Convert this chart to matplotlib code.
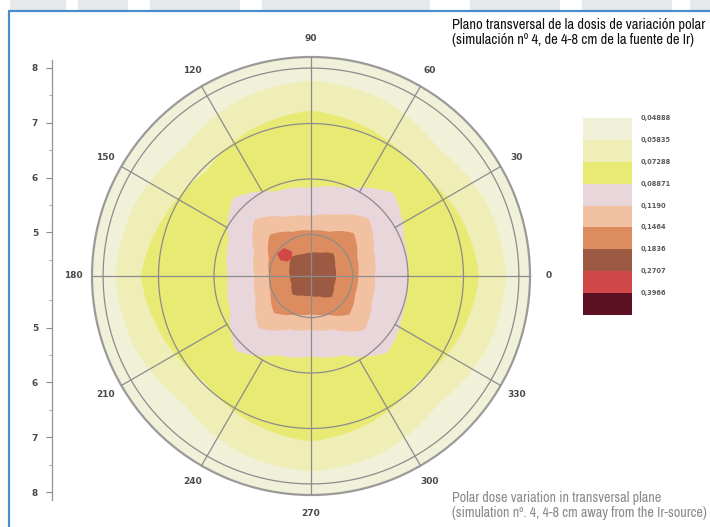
import numpy as np
import matplotlib
matplotlib.use("Agg")
import matplotlib.pyplot as plt
from matplotlib import font_manager as fm
from matplotlib.patches import Rectangle, PathPatch
from matplotlib.path import Path
from matplotlib.colors import ListedColormap, BoundaryNorm
from matplotlib.cm import ScalarMappable

# Isodose boundaries: radius (cm) of each band's outer edge at each polar angle
angles_deg = [0, 22.5, 45, 67.5, 90, 112.5, 135, 157.5,
              180, 202.5, 225, 247.5, 270, 292.5, 315, 337.5]
edge_pale = [7.77, 7.68, 7.50, 7.68, 7.77, 7.68, 7.50, 7.68,
             7.77, 7.68, 7.50, 7.68, 7.77, 7.68, 7.50, 7.68]
edge_yellow = [7.28, 7.14, 6.96, 7.10, 7.23, 7.10, 6.92, 7.10,
               7.32, 7.14, 6.96, 7.10, 7.23, 7.10, 6.96, 7.14]
edge_lavender = [6.00, 6.06, 6.36, 5.96, 5.84, 5.90, 6.24, 5.86,
                 5.75, 5.83, 6.16, 5.80, 5.70, 5.80, 6.20, 6.04]
edge_peach = [5.40, 5.47, 5.72, 5.44, 5.33, 5.40, 5.69, 5.36,
              5.27, 5.33, 5.58, 5.29, 5.22, 5.29, 5.62, 5.44]
edge_orange = [5.10, 5.15, 5.34, 5.11, 5.07, 5.11, 5.30, 5.07,
               5.00, 5.04, 5.19, 5.00, 4.94, 5.00, 5.23, 5.11]
edge_brown = [4.70, 4.72, 4.82, 4.70, 4.67, 4.67, 4.74, 4.67,
              4.63, 4.63, 4.72, 4.63, 4.61, 4.65, 4.78, 4.70]
# Small hot spot (highest band reached) near 140 degrees: closed outline
spot_theta_deg = [128, 136, 148, 153, 147, 134]
spot_r = [4.80, 4.72, 4.74, 4.86, 4.98, 4.95]

# Colour scale: lower bound of each dose band and its label
level_values = [0.04888, 0.05835, 0.07288, 0.08871, 0.1190, 0.1464, 0.1836, 0.2707, 0.3966]
level_labels = ["0,04888", "0,05835", "0,07288", "0,08871", "0,1190",
                "0,1464", "0,1836", "0,2707", "0,3966"]
band_colors = ["#f1f1da", "#eeeeb6", "#e8ea74", "#e9d6da", "#f2c1a2",
               "#dc8c5e", "#9c5a42", "#d04848", "#5a1020"]

# Polar axis ticks
ring_values = [5, 6, 7, 8]
angle_labels = [0, 30, 60, 90, 120, 150, 180, 210, 240, 270, 300, 330]

title_es = ("Plano transversal de la dosis de variación polar\n"
            "(simulación nº 4, de 4-8 cm de la fuente de Ir)")
caption_en = ("Polar dose variation in transversal plane\n"
              "(simulation nº. 4, 4-8 cm away from the Ir-source)")

W, H = 710, 527
fig = plt.figure(figsize=(W / 100, H / 100), dpi=100)
fig.patch.set_facecolor("white")


def px_box(x0, y0, x1, y1):
    return [x0 / W, 1 - y1 / H, (x1 - x0) / W, (y1 - y0) / H]


def narrow_font():
    for f in fm.fontManager.ttflist:
        if f.style != "normal":
            continue
        if "Narrow" in f.name or "Condensed" in f.name:
            return dict(family=f.name)
    for f in fm.fontManager.ttflist:
        if f.style == "normal" and f.stretch in ("condensed", "semi-condensed"):
            return dict(family=f.name, stretch=f.stretch)
    return dict(family="DejaVu Sans")


narrow = narrow_font()

# Page frame and header strip
bg = fig.add_axes([0, 0, 1, 1])
bg.set_xlim(0, W)
bg.set_ylim(H, 0)
bg.axis("off")
for x0, x1 in [(10, 66), (78, 128), (150, 240), (262, 430), (470, 560), (582, 672), (690, 710)]:
    bg.add_patch(Rectangle((x0, 0), x1 - x0, 9.5, facecolor="#e6e9ec", edgecolor="none"))
bg.plot([8, W], [10.5, 10.5], color="#4a8ccc", lw=1.6, solid_capstyle="butt")
bg.plot([8.5, 8.5], [10.5, H], color="#4a8ccc", lw=1.6, solid_capstyle="butt")

# Polar dose map
r_min, r_max = 4.25, 8.2
ax = fig.add_axes(px_box(92, 57, 530, 495), projection="polar")
ax.set_ylim(r_min, r_max)
ax.set_facecolor(band_colors[0])


def band_patch(theta_deg, radius, color, z, full_turn=True):
    end = theta_deg[0] + 360.0 if full_turn else theta_deg[0]
    t = np.deg2rad(np.append(theta_deg, end))
    r = np.append(radius, radius[0])
    path = Path(np.column_stack([t, r]), _interpolation_steps=24)
    ax.add_patch(PathPatch(path, facecolor=color, edgecolor="none", zorder=z))


edges = [edge_pale, edge_yellow, edge_lavender, edge_peach, edge_orange, edge_brown]
for k, edge in enumerate(edges):
    band_patch(angles_deg, edge, band_colors[k + 1], 1 + k * 0.01)
band_patch(spot_theta_deg, spot_r, band_colors[7], 1.1, full_turn=False)

ax.set_ylim(r_min, r_max)
ax.set_xticks([])
ax.set_yticks([])
ax.grid(False)
ax.spines["polar"].set_color("#9a9a9a")
ax.spines["polar"].set_linewidth(1.6)

grid_kw = dict(color="#8c8c8c", lw=0.9, zorder=3)
t_full = np.linspace(0, 2 * np.pi, 361)
for rv in ring_values:
    ax.plot(t_full, np.full_like(t_full, rv), **grid_kw)
for a in angle_labels:
    t = np.deg2rad(a)
    start = r_min if a % 90 == 0 else 6
    ax.plot([t, t], [start, r_max], **grid_kw)
    ax.text(t, r_max + 0.33, str(a), ha="center", va="center",
            fontsize=6.5, fontweight="bold", color="#4a4a4a", clip_on=False)

# Radial scale on the left
r0_scale, px_per_cm = 4.13, 54.8
lax = fig.add_axes(px_box(52, 60, 53, 500))
half = 220 / px_per_cm
lax.set_ylim(-half, half)
lax.set_xlim(0, 1)
for s in ["top", "right", "bottom"]:
    lax.spines[s].set_visible(False)
lax.spines["left"].set_color("#9a9a9a")
lax.spines["left"].set_linewidth(1.0)
lax.set_xticks([])
pos = [rv - r0_scale for rv in ring_values]
lax.set_yticks([-p for p in pos[::-1]] + pos)
lax.set_yticklabels([str(v) for v in ring_values[::-1]] + [str(v) for v in ring_values])
minor = [m - r0_scale for m in [4.5, 5.5, 6.5, 7.5]]
lax.set_yticks([-m for m in minor] + minor, minor=True)
lax.tick_params(axis="y", which="major", length=4, width=0.8, color="#8a8a8a",
                labelsize=6.5, labelcolor="#4a4a4a", pad=6)
lax.tick_params(axis="y", which="minor", length=2, width=0.6, color="#9a9a9a")
for lbl in lax.get_yticklabels():
    lbl.set_fontweight("bold")

# Colour bar
cmap = ListedColormap(band_colors)
norm = BoundaryNorm(level_values + [0.6], cmap.N)
cax = fig.add_axes(px_box(583, 118, 632, 315))
cb = fig.colorbar(ScalarMappable(norm=norm, cmap=cmap), cax=cax,
                  spacing="uniform", ticks=level_values)
cb.minorticks_off()
cax.invert_yaxis()
cb.outline.set_visible(False)
cb.set_ticklabels(level_labels)
cax.tick_params(which="both", length=0, labelsize=4.8, labelcolor="#5a5a5a", pad=6)
for lbl in cax.get_yticklabels():
    lbl.set_fontweight("bold")
    lbl.set_va("center")

# Titles, sized to their column width
t1 = fig.text(452 / W, 1 - 18 / H, title_es, ha="left", va="top", fontsize=8.6,
              color="#111111", linespacing=1.1, **narrow)
t2 = fig.text(452 / W, 1 - 491 / H, caption_en, ha="left", va="top", fontsize=8.6,
              color="#8a8a8a", linespacing=1.1, **narrow)
fig.canvas.draw()
renderer = fig.canvas.get_renderer()
for txt, target in [(t1, 253), (t2, 256)]:
    w = txt.get_window_extent(renderer).width
    txt.set_fontsize(txt.get_fontsize() * target / w)

fig.savefig("out.png", dpi=100)
